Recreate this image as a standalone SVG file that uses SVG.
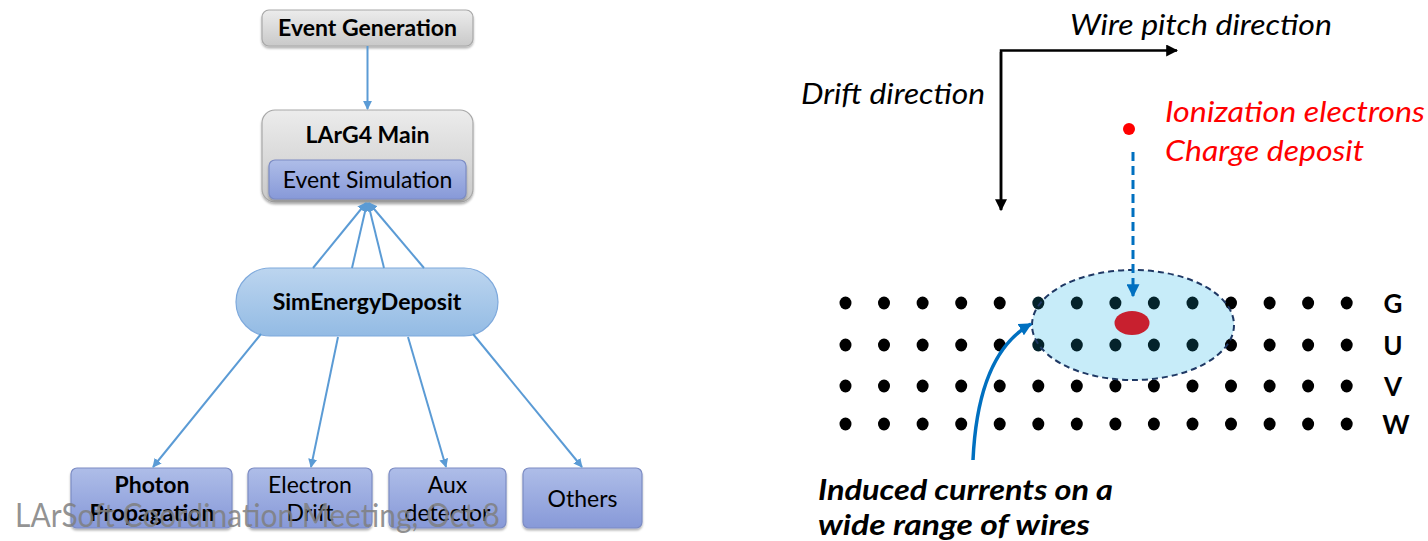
<svg xmlns="http://www.w3.org/2000/svg" width="1428" height="541" viewBox="0 0 1428 541">
  <defs>
    <linearGradient id="gGrey" x1="0" y1="0" x2="0" y2="1">
      <stop offset="0" stop-color="#ececec"/>
      <stop offset="1" stop-color="#c9c9c9"/>
    </linearGradient>
    <linearGradient id="gBlue" x1="0" y1="0" x2="0" y2="1">
      <stop offset="0" stop-color="#aebde8"/>
      <stop offset="1" stop-color="#8799d8"/>
    </linearGradient>
    <linearGradient id="gPill" x1="0" y1="0" x2="0" y2="1">
      <stop offset="0" stop-color="#bcd5ef"/>
      <stop offset="1" stop-color="#93bbe4"/>
    </linearGradient>
    <marker id="aBlue" viewBox="0 0 10 10" refX="9" refY="5" markerWidth="9" markerHeight="9" markerUnits="userSpaceOnUse" orient="auto">
      <path d="M0,0 L10,5 L0,10 z" fill="#5b9bd5"/>
    </marker>
    <marker id="aBlack" viewBox="0 0 10 10" refX="9" refY="5" markerWidth="12" markerHeight="12" markerUnits="userSpaceOnUse" orient="auto">
      <path d="M0,0 L10,5 L0,10 z" fill="#000"/>
    </marker>
    <marker id="aDeep" viewBox="0 0 10 10" refX="9" refY="5" markerWidth="13" markerHeight="13" markerUnits="userSpaceOnUse" orient="auto">
      <path d="M0,0 L10,5 L0,10 z" fill="#0070c0"/>
    </marker>
    <filter id="shadow" x="-10%" y="-10%" width="120%" height="130%">
      <feDropShadow dx="0" dy="2" stdDeviation="1.2" flood-color="#000" flood-opacity="0.3"/>
    </filter>
  </defs>
  <style>
    .lbl { font-family: Lato, "Liberation Sans", sans-serif; font-size: 23px; fill: #000; text-anchor: middle; }
    .b { font-weight: bold; }
    .grey { fill: url(#gGrey); stroke: #a8a8a8; stroke-width: 1.2; }
    .blue { fill: url(#gBlue); stroke: #7c8cc4; stroke-width: 1.2; }
    .conn { stroke: #5b9bd5; stroke-width: 2; fill: none; marker-end: url(#aBlue); }
    .axis { stroke: #000; stroke-width: 2.5; fill: none; marker-end: url(#aBlack); }
    .it { font-family: Lato, "Liberation Sans", sans-serif; font-style: italic; font-size: 28px; }
    .bi { font-family: Lato, "Liberation Sans", sans-serif; font-style: italic; font-weight: bold; font-size: 28px; }
    .dot { fill: #000; }
    .dot.in { fill: #04232b; }
    .plane { font-family: Lato, "Liberation Sans", sans-serif; font-weight: bold; font-size: 26px; text-anchor: middle; }
  </style>

  <!-- left: simulation chain -->
  <g id="event-generation">
    <rect class="grey" x="262" y="10" width="211" height="36" rx="7" filter="url(#shadow)"/>
    <text class="lbl b" x="367.5" y="36">Event Generation</text>
  </g>

  <g id="larg4-main">
    <rect class="grey" x="262" y="110" width="211" height="92" rx="13" filter="url(#shadow)"/>
    <text class="lbl b" x="367.5" y="143">LArG4 Main</text>
    <rect class="blue" x="269" y="160" width="197" height="39" rx="6" filter="url(#shadow)"/>
    <text class="lbl" x="367.5" y="188">Event Simulation</text>
  </g>

  <g id="sim-energy-deposit">
    <rect x="236" y="268" width="262" height="68" rx="34" fill="url(#gPill)" stroke="#7ea9dc" stroke-width="1.2"/>
    <text class="lbl b" x="367" y="310">SimEnergyDeposit</text>
  </g>

  <g id="photon-propagation">
    <rect class="blue" x="71" y="468" width="161" height="60" rx="6" filter="url(#shadow)"/>
    <text class="lbl b" x="152" y="493">Photon</text>
    <text class="lbl b" x="152" y="521">Propagation</text>
  </g>
  <g id="electron-drift">
    <rect class="blue" x="248" y="468" width="124" height="60" rx="6" filter="url(#shadow)"/>
    <text class="lbl" x="310" y="493">Electron</text>
    <text class="lbl" x="310" y="521">Drift</text>
  </g>
  <g id="aux-detector">
    <rect class="blue" x="389" y="468" width="117" height="60" rx="6" filter="url(#shadow)"/>
    <text class="lbl" x="447.5" y="493">Aux</text>
    <text class="lbl" x="447.5" y="521">detector</text>
  </g>
  <g id="others">
    <rect class="blue" x="523" y="468" width="119" height="60" rx="6" filter="url(#shadow)"/>
    <text class="lbl" x="582.5" y="507">Others</text>
  </g>

  <g id="connectors">
    <line class="conn" x1="367.5" y1="46" x2="367.5" y2="109"/>
    <line class="conn" x1="313" y1="268" x2="366" y2="203"/>
    <line class="conn" x1="352" y1="268" x2="367" y2="203"/>
    <line class="conn" x1="384" y1="268" x2="368" y2="203"/>
    <line class="conn" x1="424" y1="268" x2="369" y2="203"/>
    <line class="conn" x1="261" y1="334" x2="153" y2="467"/>
    <line class="conn" x1="338" y1="337" x2="311" y2="467"/>
    <line class="conn" x1="408" y1="337" x2="446" y2="467"/>
    <line class="conn" x1="473" y1="334" x2="582" y2="467"/>
  </g>

  <!-- footer caption laid over the boxes -->
  <text x="15" y="527" font-family="Lato, 'Liberation Sans', sans-serif" font-size="32" fill="#7f7f7f" fill-opacity="0.85" textLength="485" lengthAdjust="spacingAndGlyphs">LArSoft Coordination Meeting, Oct 8</text>

  <!-- right: wire plane sketch -->
  <g id="axes">
    <path class="axis" d="M1001,210 L1001,50.5 L1177,50.5"/>
    <line class="axis" x1="1001" y1="52" x2="1001" y2="210"/>
    <text class="it" x="1070" y="35" textLength="262" lengthAdjust="spacingAndGlyphs">Wire pitch direction</text>
    <text class="it" x="801" y="104" textLength="184" lengthAdjust="spacingAndGlyphs">Drift direction</text>
  </g>

  <g id="charge-cloud">
    <ellipse cx="1133" cy="325" rx="101" ry="55" fill="#c7ecf9"/>
  </g>

  <g id="wires">
    <g id="plane-G">
      <ellipse class="dot" cx="845.5" cy="303" rx="6" ry="6.5"/>
      <ellipse class="dot" cx="884" cy="303" rx="6" ry="6.5"/>
      <ellipse class="dot" cx="922.6" cy="303" rx="6" ry="6.5"/>
      <ellipse class="dot" cx="961.2" cy="303" rx="6" ry="6.5"/>
      <ellipse class="dot" cx="999.7" cy="303" rx="6" ry="6.5"/>
      <ellipse class="dot in" cx="1038.3" cy="303" rx="6" ry="6.5"/>
      <ellipse class="dot in" cx="1076.8" cy="303" rx="6" ry="6.5"/>
      <ellipse class="dot in" cx="1115.4" cy="303" rx="6" ry="6.5"/>
      <ellipse class="dot in" cx="1153.9" cy="303" rx="6" ry="6.5"/>
      <ellipse class="dot in" cx="1192.5" cy="303" rx="6" ry="6.5"/>
      <ellipse class="dot" cx="1231" cy="303" rx="6" ry="6.5"/>
      <ellipse class="dot" cx="1269.6" cy="303" rx="6" ry="6.5"/>
      <ellipse class="dot" cx="1308.1" cy="303" rx="6" ry="6.5"/>
      <ellipse class="dot" cx="1346.7" cy="303" rx="6" ry="6.5"/>
      <text class="plane" x="1393" y="313">G</text>
    </g>
    <g id="plane-U">
      <ellipse class="dot" cx="845.5" cy="345" rx="6" ry="6.5"/>
      <ellipse class="dot" cx="884" cy="345" rx="6" ry="6.5"/>
      <ellipse class="dot" cx="922.6" cy="345" rx="6" ry="6.5"/>
      <ellipse class="dot" cx="961.2" cy="345" rx="6" ry="6.5"/>
      <ellipse class="dot" cx="999.7" cy="345" rx="6" ry="6.5"/>
      <ellipse class="dot in" cx="1038.3" cy="345" rx="6" ry="6.5"/>
      <ellipse class="dot in" cx="1076.8" cy="345" rx="6" ry="6.5"/>
      <ellipse class="dot in" cx="1115.4" cy="345" rx="6" ry="6.5"/>
      <ellipse class="dot in" cx="1153.9" cy="345" rx="6" ry="6.5"/>
      <ellipse class="dot in" cx="1192.5" cy="345" rx="6" ry="6.5"/>
      <ellipse class="dot" cx="1231" cy="345" rx="6" ry="6.5"/>
      <ellipse class="dot" cx="1269.6" cy="345" rx="6" ry="6.5"/>
      <ellipse class="dot" cx="1308.1" cy="345" rx="6" ry="6.5"/>
      <ellipse class="dot" cx="1346.7" cy="345" rx="6" ry="6.5"/>
      <text class="plane" x="1393" y="355">U</text>
    </g>
    <g id="plane-V">
      <ellipse class="dot" cx="845.5" cy="386" rx="6" ry="6.5"/>
      <ellipse class="dot" cx="884" cy="386" rx="6" ry="6.5"/>
      <ellipse class="dot" cx="922.6" cy="386" rx="6" ry="6.5"/>
      <ellipse class="dot" cx="961.2" cy="386" rx="6" ry="6.5"/>
      <ellipse class="dot" cx="999.7" cy="386" rx="6" ry="6.5"/>
      <ellipse class="dot" cx="1038.3" cy="386" rx="6" ry="6.5"/>
      <ellipse class="dot" cx="1076.8" cy="386" rx="6" ry="6.5"/>
      <ellipse class="dot" cx="1115.4" cy="386" rx="6" ry="6.5"/>
      <ellipse class="dot" cx="1153.9" cy="386" rx="6" ry="6.5"/>
      <ellipse class="dot" cx="1192.5" cy="386" rx="6" ry="6.5"/>
      <ellipse class="dot" cx="1231" cy="386" rx="6" ry="6.5"/>
      <ellipse class="dot" cx="1269.6" cy="386" rx="6" ry="6.5"/>
      <ellipse class="dot" cx="1308.1" cy="386" rx="6" ry="6.5"/>
      <ellipse class="dot" cx="1346.7" cy="386" rx="6" ry="6.5"/>
      <text class="plane" x="1393" y="396">V</text>
    </g>
    <g id="plane-W">
      <ellipse class="dot" cx="845.5" cy="424" rx="6" ry="6.5"/>
      <ellipse class="dot" cx="884" cy="424" rx="6" ry="6.5"/>
      <ellipse class="dot" cx="922.6" cy="424" rx="6" ry="6.5"/>
      <ellipse class="dot" cx="961.2" cy="424" rx="6" ry="6.5"/>
      <ellipse class="dot" cx="999.7" cy="424" rx="6" ry="6.5"/>
      <ellipse class="dot" cx="1038.3" cy="424" rx="6" ry="6.5"/>
      <ellipse class="dot" cx="1076.8" cy="424" rx="6" ry="6.5"/>
      <ellipse class="dot" cx="1115.4" cy="424" rx="6" ry="6.5"/>
      <ellipse class="dot" cx="1153.9" cy="424" rx="6" ry="6.5"/>
      <ellipse class="dot" cx="1192.5" cy="424" rx="6" ry="6.5"/>
      <ellipse class="dot" cx="1231" cy="424" rx="6" ry="6.5"/>
      <ellipse class="dot" cx="1269.6" cy="424" rx="6" ry="6.5"/>
      <ellipse class="dot" cx="1308.1" cy="424" rx="6" ry="6.5"/>
      <ellipse class="dot" cx="1346.7" cy="424" rx="6" ry="6.5"/>
      <text class="plane" x="1396" y="434">W</text>
    </g>
  </g>

  <g id="cloud-outline">
    <ellipse cx="1133" cy="325" rx="101" ry="55" fill="none" stroke="#1f3864" stroke-width="2" stroke-dasharray="6 4"/>
    <ellipse cx="1132" cy="323" rx="17.5" ry="12" fill="#c8202f"/>
  </g>

  <g id="charge-deposit">
    <circle cx="1129" cy="129" r="6" fill="#ff0000"/>
    <text class="it" x="1165" y="122" fill="#ff0000" textLength="260" lengthAdjust="spacingAndGlyphs">Ionization electrons</text>
    <text class="it" x="1165" y="161" fill="#ff0000" textLength="199" lengthAdjust="spacingAndGlyphs">Charge deposit</text>
    <line x1="1133" y1="152" x2="1133" y2="296" stroke="#0070c0" stroke-width="3" stroke-dasharray="9 5" marker-end="url(#aDeep)"/>
  </g>

  <g id="induced-currents">
    <path d="M973,460 C976,395 993,345 1031,324" fill="none" stroke="#0070c0" stroke-width="3.5" marker-end="url(#aDeep)"/>
    <text class="bi" x="818" y="500" textLength="295" lengthAdjust="spacingAndGlyphs">Induced currents on a</text>
    <text class="bi" x="818" y="535" textLength="272" lengthAdjust="spacingAndGlyphs">wide range of wires</text>
  </g>
</svg>
